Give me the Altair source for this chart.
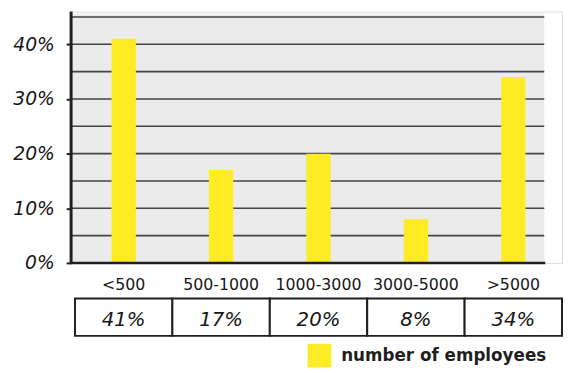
import altair as alt
import pandas as pd

categories = ["<500", "500-1000", "1000-3000", "3000-5000", ">5000"]
shares = [0.41, 0.17, 0.20, 0.08, 0.34]
y_ticks = [0, 0.05, 0.10, 0.15, 0.20, 0.25, 0.30, 0.35, 0.40, 0.45]
series_name = "number of employees"

df = pd.DataFrame({"cat": categories, "share": shares, "series": [series_name] * len(categories)})
grid_df = pd.DataFrame({"v": y_ticks[1:]})
one = pd.DataFrame({"a": [0]})

FONT = "DejaVu Sans"
DARK = "#1f1f1f"

x_enc = alt.X(
    "cat:N",
    sort=categories,
    scale=alt.Scale(paddingInner=0, paddingOuter=0.02, align=1),
    axis=alt.Axis(
        title=None, domain=False, ticks=False, labelAngle=0,
        labelFont=FONT, labelFontSize=16, labelColor="#161616", labelPadding=14,
    ),
)
y_scale = alt.Scale(domain=[0, 0.46], nice=False, zero=True)

bg = alt.Chart(one).mark_rect(color="#ebebeb").encode(
    x=alt.value(1), x2=alt.value(480), y=alt.value(2), y2=alt.value(255)
)

grid = alt.Chart(grid_df).mark_rule(color="#454545", strokeWidth=1.6).encode(
    x=alt.value(0), x2=alt.value(480),
    y=alt.Y("v:Q", scale=y_scale),
)

bars = alt.Chart(df).mark_bar(width=alt.RelativeBandSize(0.25)).encode(
    x=x_enc,
    y=alt.Y(
        "share:Q", scale=y_scale,
        axis=alt.Axis(
            title=None, values=y_ticks, grid=False, domain=False,
            labelExpr="round(datum.value*100) % 10 == 0 ? format(datum.value, '.0%') : ''",
            tickColor=DARK, tickWidth=2, tickSize=5, tickOffset=0,
            labelFont=FONT, labelFontStyle="italic", labelFontSize=19,
            labelColor="#161616", labelPadding=12,
        ),
    ),
    color=alt.Color(
        "series:N",
        scale=alt.Scale(range=["#fdeb23"]),
        legend=alt.Legend(
            title=None, orient="none", legendX=240, legendY=337, padding=0,
            symbolType="square", symbolSize=576, symbolStrokeWidth=0,
            symbolOpacity=1, labelLimit=400,
            labelFont=FONT, labelFontSize=17, labelFontWeight="bold",
            labelColor=DARK, labelOffset=10,
        ),
    ),
)

base_line = alt.Chart(one).mark_rule(color=DARK, strokeWidth=2.5).encode(
    x=alt.value(-1), x2=alt.value(481), y=alt.datum(0)
)

left_line = alt.Chart(one).mark_rule(color=DARK, strokeWidth=3).encode(
    x=alt.value(0), y=alt.value(0), y2=alt.value(256)
)

cells = alt.Chart(df).mark_rect(fill="white", stroke=DARK, strokeWidth=2).encode(
    x=x_enc, y=alt.value(291), y2=alt.value(329)
)

cell_text = alt.Chart(df).mark_text(
    font=FONT, fontStyle="italic", fontSize=20, color="#161616", baseline="middle"
).encode(
    x=x_enc, y=alt.value(313),
    text=alt.Text("share:Q", format=".0%"),
)

chart = alt.layer(bg, grid, bars, base_line, left_line, cells, cell_text).properties(
    width=498, height=255,
    autosize=alt.AutoSizeParams(type="none"),
    padding={"left": 64, "top": 1, "right": 1, "bottom": 104},
).configure_view(stroke=None).configure(background="white")

chart.save("out.html", embed_options={"renderer": "svg", "actions": False})
